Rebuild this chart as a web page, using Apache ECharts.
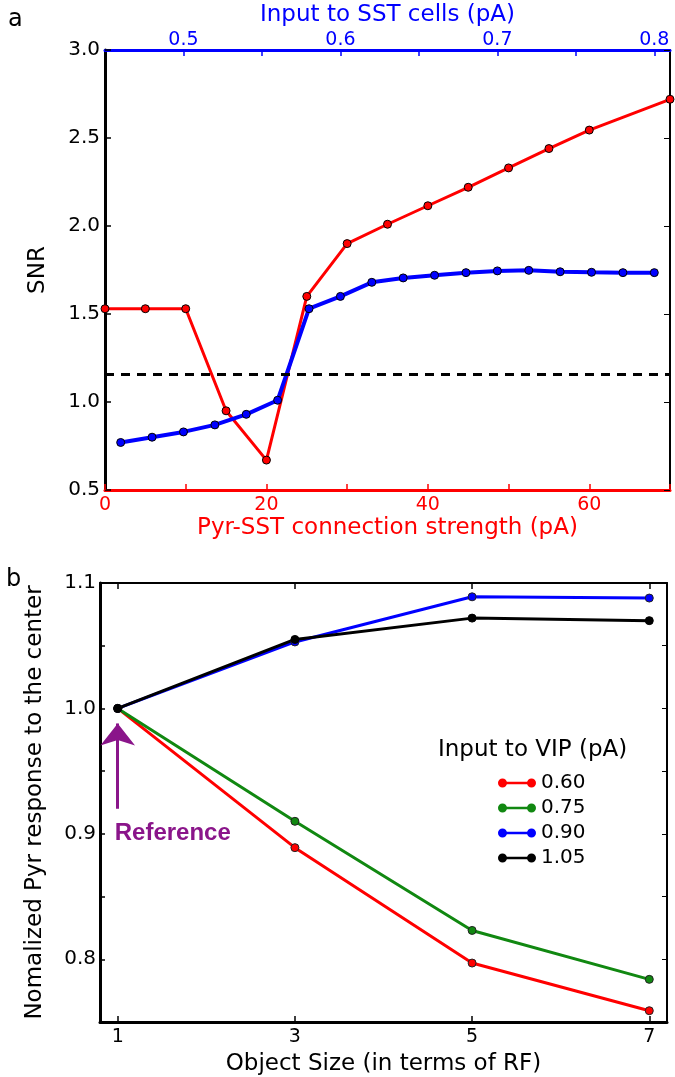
<!DOCTYPE html>
<html><head><meta charset="utf-8">
<script src="https://cdn.jsdelivr.net/npm/echarts@6/dist/echarts.min.js"></script>
<style>html,body{margin:0;padding:0;background:#fff}#c{width:675px;height:1077px}</style>
</head><body><div id="c"></div>
<script>
// ---- Panel a data ----
const pyrSstStrength = [0, 5, 10, 15, 20, 25, 30, 35, 40, 45, 50, 55, 60, 70];
const snrVsStrength = [1.53, 1.53, 1.53, 0.95, 0.67, 1.60, 1.90, 2.01, 2.115, 2.22, 2.33, 2.44, 2.545, 2.72];
const sstInput = [0.46, 0.48, 0.50, 0.52, 0.54, 0.56, 0.58, 0.60, 0.62, 0.64, 0.66, 0.68, 0.70, 0.72, 0.74, 0.76, 0.78, 0.80];
const snrVsInput = [0.77, 0.80, 0.83, 0.87, 0.93, 1.01, 1.53, 1.60, 1.68, 1.705, 1.72, 1.735, 1.745, 1.748, 1.74, 1.737, 1.735, 1.735];
const snrThreshold = 1.163;
const sstTickLabels = [0.5, 0.6, 0.7, 0.8];
const sstTicks = [0.5, 0.55, 0.6, 0.65, 0.7, 0.75, 0.8];
const strengthTickLabels = [0, 20, 40, 60];

// ---- Panel b data ----
const objectSizes = [1, 3, 5, 7];
const vipLevels = ['0.60', '0.75', '0.90', '1.05'];
const resp060 = [1.0, 0.889, 0.797, 0.759];
const resp075 = [1.0, 0.910, 0.823, 0.784];
const resp090 = [1.0, 1.053, 1.089, 1.088];
const resp105 = [1.0, 1.055, 1.072, 1.070];
const referenceArrow = [0.92, 0.988];
const referenceLabelY = 0.9;

const FONT = 'DejaVu Sans';
const TICK = 19, TITLE = 23;
const RED = '#ff0000', BLUE = '#0000ff', GREEN = '#118811', BLACK = '#000000', PURPLE = '#8a158a';
const pair = (xs, ys) => xs.map((x, i) => [x, ys[i]]);
const tenth = v => Math.abs(v * 10 - Math.round(v * 10)) < 1e-6;

const chart = echarts.init(document.getElementById('c'));
const lineSeries = (name, xi, yi, xs, ys, color, w, border) => ({
  name, type: 'line', xAxisIndex: xi, yAxisIndex: yi, data: pair(xs, ys),
  symbol: 'circle', symbolSize: 8, showSymbol: true,
  lineStyle: { color, width: w },
  itemStyle: { color, borderColor: border, borderWidth: 1 },
  emphasis: { disabled: true }, z: 3
});

const s1 = lineSeries('snrStrength', 0, 0, pyrSstStrength, snrVsStrength, RED, 3, '#000');
s1.markLine = {
  silent: true, symbol: ['none', 'none'], label: { show: false },
  lineStyle: { color: BLACK, type: [9, 7], width: 3 },
  data: [{ yAxis: snrThreshold }]
};
const s2 = lineSeries('snrInput', 1, 0, sstInput, snrVsInput, BLUE, 4, '#000');
const b1 = lineSeries('0.60', 2, 2, objectSizes, resp060, RED, 3, '#222');
const b2 = lineSeries('0.75', 2, 2, objectSizes, resp075, GREEN, 3, '#222');
const b3 = lineSeries('0.90', 2, 2, objectSizes, resp090, BLUE, 3, '#222');
const b4 = lineSeries('1.05', 2, 2, objectSizes, resp105, BLACK, 3, '#000');
b4.markLine = {
  silent: true, symbol: ['none', 'arrow'], symbolSize: [26, 22],
  label: { show: false },
  lineStyle: { color: PURPLE, width: 3, type: 'solid' },
  itemStyle: { color: PURPLE },
  data: [[{ coord: [objectSizes[0], referenceArrow[0]] }, { coord: [objectSizes[0], referenceArrow[1]] }]]
};
b4.markPoint = {
  silent: true, symbol: 'circle', symbolSize: 0,
  label: { show: true, formatter: 'Reference', position: [-3, 0], align: 'left', verticalAlign: 'middle',
           color: PURPLE, fontWeight: 'bold', fontSize: 24, fontFamily: 'Liberation Sans' },
  data: [{ coord: [objectSizes[0], referenceLabelY] }]
};

const nameStyle = c => ({ color: c, fontSize: TITLE, fontFamily: FONT });
const lblStyle = c => ({ color: c, fontSize: TICK, fontFamily: FONT });

const legendIcon = 'path://M0,4.5 A4.5,4.5 0 1,1 9,4.5 A4.5,4.5 0 1,1 0,4.5 Z M8.5,3.3 L29.5,3.3 L29.5,5.7 L8.5,5.7 Z M29,4.5 A4.5,4.5 0 1,1 38,4.5 A4.5,4.5 0 1,1 29,4.5 Z';

chart.setOption({
  animation: false,
  backgroundColor: '#fff',
  title: [
    { text: 'a', left: 3, top: 3, textStyle: { fontFamily: FONT, fontSize: 24, fontWeight: 'normal', color: '#000' } },
    { text: 'b', left: 1, top: 563, textStyle: { fontFamily: FONT, fontSize: 24, fontWeight: 'normal', color: '#000' } },
    { text: 'Input to VIP (pA)', left: 433, top: 734, textStyle: { fontFamily: FONT, fontSize: TITLE, fontWeight: 'normal', color: '#000' } }
  ],
  legend: {
    data: vipLevels, orient: 'vertical', left: 493, top: 768, itemWidth: 38, itemHeight: 9, itemGap: 5,
    icon: legendIcon, selectedMode: false,
    itemStyle: { borderWidth: 0 },
    textStyle: { fontFamily: FONT, fontSize: 20, color: '#000', lineHeight: 20 }
  },
  grid: [
    { left: 105, top: 50, width: 565, height: 440 },
    { left: 100, top: 583, width: 567, height: 440 }
  ],
  xAxis: [
    { gridIndex: 0, type: 'value', position: 'bottom', min: 0, max: 70, interval: 10,
      axisLine: { show: true, onZero: false, lineStyle: { color: RED, width: 3 } },
      axisTick: { show: true, inside: true, length: 6, lineStyle: { color: RED, width: 1.5 } },
      axisLabel: { margin: 6, ...lblStyle(RED), formatter: v => strengthTickLabels.includes(v) ? String(v) : '' },
      splitLine: { show: false },
      name: 'Pyr-SST connection strength (pA)', nameLocation: 'middle', nameGap: 27, nameTextStyle: nameStyle(RED) },
    { gridIndex: 0, type: 'value', position: 'top', min: 0.45, max: 0.81,
      axisLine: { show: true, onZero: false, lineStyle: { color: BLUE, width: 3 } },
      axisTick: { show: true, inside: true, length: 6, customValues: sstTicks, lineStyle: { color: BLUE, width: 1.5 } },
      axisLabel: { margin: 0, ...lblStyle(BLUE), customValues: sstTickLabels, formatter: v => v.toFixed(1) },
      splitLine: { show: false },
      name: 'Input to SST cells (pA)', nameLocation: 'middle', nameGap: 23, nameTextStyle: nameStyle(BLUE) },
    { gridIndex: 1, type: 'value', position: 'bottom', min: 0.8, max: 7.2,
      axisLine: { show: true, onZero: false, lineStyle: { color: BLACK, width: 3 } },
      axisTick: { show: true, inside: true, length: 6, customValues: objectSizes, lineStyle: { color: BLACK, width: 1.5 } },
      axisLabel: { margin: 6, ...lblStyle(BLACK), customValues: objectSizes },
      splitLine: { show: false },
      name: 'Object Size (in terms of RF)', nameLocation: 'middle', nameGap: 31, nameTextStyle: nameStyle(BLACK) },
    { gridIndex: 1, type: 'value', position: 'top', min: 0.8, max: 7.2,
      axisLine: { show: true, onZero: false, lineStyle: { color: BLACK, width: 2 } },
      axisTick: { show: true, inside: true, length: 6, customValues: objectSizes, lineStyle: { color: BLACK, width: 1.5 } },
      axisLabel: { show: false }, splitLine: { show: false } }
  ],
  yAxis: [
    { gridIndex: 0, type: 'value', position: 'left', min: 0.5, max: 3.0, interval: 0.5,
      axisLine: { show: true, onZero: false, lineStyle: { color: BLACK, width: 3 } },
      axisTick: { show: true, inside: true, length: 6, lineStyle: { color: BLACK, width: 1.5 } },
      axisLabel: { margin: 5, ...lblStyle(BLACK), fontSize: 20, formatter: v => v.toFixed(1) },
      splitLine: { show: false },
      name: 'SNR', nameLocation: 'middle', nameGap: 55, nameRotate: 90, nameTextStyle: nameStyle(BLACK) },
    { gridIndex: 0, type: 'value', position: 'right', min: 0.5, max: 3.0, interval: 0.5,
      axisLine: { show: true, onZero: false, lineStyle: { color: BLACK, width: 2 } },
      axisTick: { show: true, inside: true, length: 6, lineStyle: { color: BLACK, width: 1 } },
      axisLabel: { show: false }, splitLine: { show: false } },
    { gridIndex: 1, type: 'value', position: 'left', min: 0.75, max: 1.1, interval: 0.05,
      axisLine: { show: true, onZero: false, lineStyle: { color: BLACK, width: 3 } },
      axisTick: { show: true, inside: true, length: 5, lineStyle: { color: BLACK, width: 1.5 } },
      axisLabel: { margin: 4, ...lblStyle(BLACK), fontSize: 20, formatter: v => tenth(v) ? v.toFixed(1) : '' },
      splitLine: { show: false },
      name: 'Nomalized Pyr response to the center', nameLocation: 'middle', nameGap: 53, nameRotate: 90, nameTextStyle: nameStyle(BLACK) },
    { gridIndex: 1, type: 'value', position: 'right', min: 0.75, max: 1.1, interval: 0.05,
      axisLine: { show: true, onZero: false, lineStyle: { color: BLACK, width: 2 } },
      axisTick: { show: true, inside: true, length: 5, lineStyle: { color: BLACK, width: 1 } },
      axisLabel: { show: false }, splitLine: { show: false } }
  ],
  series: [s1, s2, b1, b2, b3, b4]
});
</script></body></html>
